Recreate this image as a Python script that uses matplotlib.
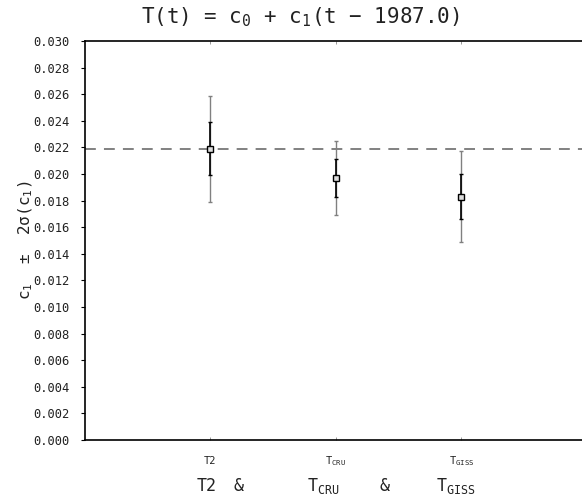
import matplotlib
matplotlib.use("Agg")
import matplotlib.pyplot as plt
import matplotlib.transforms as mtransforms
import numpy as np

plt.rcParams['font.family'] = ['DejaVu Sans Mono']
plt.rcParams['mathtext.fontset'] = 'custom'
plt.rcParams['mathtext.rm'] = 'DejaVu Sans Mono'
plt.rcParams['mathtext.it'] = 'DejaVu Sans Mono'

# data
series = ['T2', 'T_CRU', 'T_GISS']
xpos = [1, 2, 3]
c1 = [0.0219, 0.0197, 0.0183]
sigma = [0.0020, 0.0014, 0.0017]
ref_level = 0.0219
small_labels = ['T2', r'T$_{\mathrm{CRU}}$', r'T$_{\mathrm{GISS}}$']
yticks = np.arange(0, 0.0301, 0.002)

fig = plt.figure(figsize=(5.82, 4.97), dpi=100)
ax = fig.add_axes([0.1452, 0.1147, 0.855, 0.8028])

ax.axhline(ref_level, color='#777777', lw=1.3, ls=(0, (6, 4.5)), zorder=1)

c1a = np.array(c1)
sa = np.array(sigma)
# 2 sigma bars (grey) then 1 sigma bars (black)
ax.errorbar(xpos, c1a, yerr=2 * sa, fmt='none', ecolor='#808080', elinewidth=1.0,
            capsize=1.5, capthick=1.0, zorder=2)
ax.errorbar(xpos, c1a, yerr=sa, fmt='none', ecolor='black', elinewidth=1.2,
            capsize=1.5, capthick=1.0, zorder=3)
ax.plot(xpos, c1a, ls='none', marker='s', ms=5, mfc='#dddddd', mec='black',
        mew=1.0, zorder=4)

ax.set_xlim(0, 3.96)
ax.set_ylim(0, 0.030)
ax.set_yticks(yticks)
ax.set_yticklabels(['%.3f' % v for v in yticks], fontsize=8.7, color='#222222')
ax.set_xticks(xpos)
ax.set_xticklabels([])
ax.tick_params(axis='x', direction='in', length=2, width=0.6, colors='#888888',
               top=True, bottom=True)
ax.tick_params(axis='y', direction='out', length=3, width=0.8, pad=8)
ax.spines['right'].set_visible(False)
for s in ['left', 'bottom', 'top']:
    ax.spines[s].set_linewidth(1.2)

ax.set_ylabel(r'c$_1$  ±  2σ(c$_1$)', fontsize=11.5, color='#222222')
ax.yaxis.set_label_coords(-0.10, 0.5)

trans = mtransforms.blended_transform_factory(ax.transData, ax.transAxes)
for x, lab in zip(xpos, small_labels):
    ax.text(x, -0.053, lab, transform=trans, ha='center', va='center',
            fontsize=7.5, color='#222222')

big = [('T2', 207), ('&', 238), (r'T$_{\mathrm{CRU}}$', 323), ('&', 385),
       (r'T$_{\mathrm{GISS}}$', 456)]
for lab, px in big:
    fig.text(px / 582, 1 - 486 / 497, lab, ha='center', va='center',
             fontsize=12, color='#222222')

fig.text(300 / 582, 1 - 17 / 497, r'T(t) = c$_0$ + c$_1$(t − 1987.0)',
         ha='center', va='center', fontsize=15, color='#222222')

fig.savefig('out.png', dpi=100)
